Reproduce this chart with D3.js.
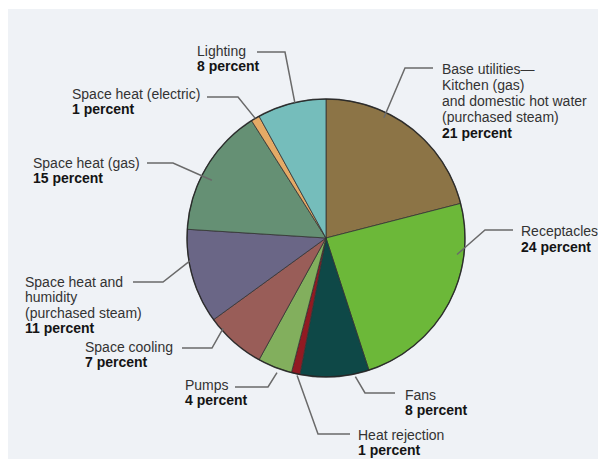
<!DOCTYPE html>
<html>
<head>
<meta charset="utf-8">
<script src="https://cdn.jsdelivr.net/npm/d3@7"></script>
<style>
  html, body { margin: 0; padding: 0; background: #ffffff; }
  svg { display: block; }
</style>
</head>
<body>
<svg id="chart" width="598" height="461"></svg>
<script>
// ---- data ----
const categories = [
  "Base utilities", "Receptacles", "Fans", "Heat rejection", "Pumps",
  "Space cooling", "Space heat and humidity", "Space heat (gas)",
  "Space heat (electric)", "Lighting"
];
const values = [21, 24, 8, 1, 4, 7, 11, 15, 1, 8];
const labelLines = [
  ["Base utilities\u2014", "Kitchen (gas)", "and domestic hot water", "(purchased steam)"],
  ["Receptacles"],
  ["Fans"],
  ["Heat rejection"],
  ["Pumps"],
  ["Space cooling"],
  ["Space heat and", "humidity", "(purchased steam)"],
  ["Space heat (gas)"],
  ["Space heat (electric)"],
  ["Lighting"]
];
const colors = [
  "#967d4b", "#74c63d", "#0f4d4c", "#9c1c24", "#8cbc64",
  "#a4645e", "#726e90", "#6d9b7d", "#f5b76e", "#7ecbc9"
];

// ---- layout (label placement, leader elbows) ----
const layout = [
  { x: 442, y: 74,  lh: 16, lx0: 433, lx1: 405, ly: 68,  frac: 0.34, rf: 0.96 },
  { x: 521, y: 236, lh: 16, lx0: 513, lx1: 485, ly: 230, frac: 0.25, rf: 0.95 },
  { x: 405, y: 400, lh: 15, lx0: 395, lx1: 365, ly: 393, frac: 0.21, rf: 1.02 },
  { x: 358, y: 440, lh: 15, lx0: 350, lx1: 318, ly: 434, frac: 0.3,  rf: 1.01 },
  { x: 185, y: 390, lh: 15, lx0: 235, lx1: 268, ly: 387, frac: 0.39, rf: 1.03 },
  { x: 85,  y: 352, lh: 15, lx0: 182, lx1: 212, ly: 348, frac: 0.79, rf: 0.985 },
  { x: 25,  y: 287, lh: 15.3, lx0: 133, lx1: 163, ly: 282, frac: 0.67, rf: 0.99 },
  { x: 33,  y: 168, lh: 15, lx0: 147, lx1: 173, ly: 163, frac: 0.43, rf: 0.92 },
  { x: 72,  y: 99,  lh: 15, lx0: 207, lx1: 238, ly: 97,  frac: 0.5,  rf: 1.0 },
  { x: 197, y: 56,  lh: 15, lx0: 257, lx1: 285, ly: 52,  frac: 0.55, rf: 1.0 }
];

const W = 598, H = 461;
const cx = 326, cy = 238, R = 139;

const svg = d3.select("#chart");

// background panel
svg.append("rect").attr("x", 8).attr("y", 9).attr("width", W - 8).attr("height", H - 11)
  .attr("fill", "#eff2f6");

const defs = svg.append("defs");
colors.forEach((c, i) => {
  const g = defs.append("radialGradient")
    .attr("id", "grad" + i)
    .attr("gradientUnits", "userSpaceOnUse")
    .attr("cx", cx).attr("cy", cy).attr("r", R)
    .attr("fx", cx - 20).attr("fy", cy - 20);
  const base = d3.color(c);
  g.append("stop").attr("offset", "0%").attr("stop-color", base.formatHex());
  g.append("stop").attr("offset", "60%").attr("stop-color", base.brighter(0.3).formatHex());
  g.append("stop").attr("offset", "100%").attr("stop-color", base.darker(0.2).formatHex());
});

const pie = d3.pie().sort(null).value(d => d).startAngle(0).endAngle(2 * Math.PI);
const arcs = pie(values);
const arc = d3.arc().innerRadius(0).outerRadius(R);

const g = svg.append("g").attr("transform", `translate(${cx},${cy})`);

g.selectAll("path.slice")
  .data(arcs)
  .join("path")
  .attr("class", "slice")
  .attr("d", arc)
  .attr("fill", (d, i) => `url(#grad${i})`)
  .attr("stroke", "#333333")
  .attr("stroke-width", 0.8)
  .attr("stroke-linejoin", "round");

// outer rim
g.append("circle").attr("r", R).attr("fill", "none")
  .attr("stroke", "#222222").attr("stroke-width", 1.4).attr("opacity", 0.8);

// leader lines
const leaders = svg.append("g");
arcs.forEach((a, i) => {
  const L = layout[i];
  const ang = a.startAngle + (a.endAngle - a.startAngle) * L.frac;
  const tx = cx + Math.sin(ang) * R * L.rf;
  const ty = cy - Math.cos(ang) * R * L.rf;
  leaders.append("path")
    .attr("d", d3.line()([[L.lx0, L.ly], [L.lx1, L.ly], [tx, ty]]))
    .attr("fill", "none")
    .attr("stroke", "#6a6a6a")
    .attr("stroke-width", 1.5);
});

// labels
const labels = svg.append("g")
  .attr("font-family", "'Liberation Sans', Arial, Helvetica, sans-serif")
  .attr("font-size", 14);

categories.forEach((cat, i) => {
  const L = layout[i];
  const t = labels.append("text").attr("x", L.x).attr("y", L.y);
  labelLines[i].forEach((line, k) => {
    t.append("tspan").attr("x", L.x).attr("y", L.y + k * L.lh)
      .attr("fill", "#333333").text(line);
  });
  t.append("tspan").attr("x", L.x).attr("y", L.y + labelLines[i].length * L.lh)
    .attr("fill", "#141414").attr("font-weight", "bold")
    .text(values[i] + " percent");
});
</script>
</body>
</html>
